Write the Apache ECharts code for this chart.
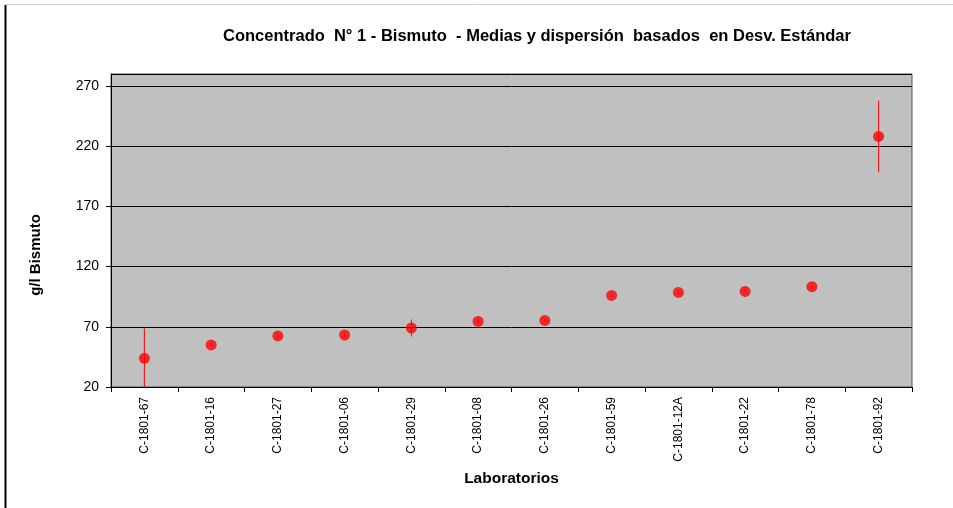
<!DOCTYPE html>
<html>
<head>
<meta charset="utf-8">
<script src="https://cdn.jsdelivr.net/npm/echarts@6/dist/echarts.min.js"></script>
<style>
html,body{margin:0;padding:0;background:#fff;}
#chart{width:953px;height:508px;}
</style>
</head>
<body>
<div id="chart"></div>
<script>
var labs = ['C-1801-67','C-1801-16','C-1801-27','C-1801-06','C-1801-29','C-1801-08','C-1801-26','C-1801-59','C-1801-12A','C-1801-22','C-1801-78','C-1801-92'];
var means = [43.8, 54.9, 62.4, 63.2, 69.0, 74.5, 75.3, 96.1, 98.6, 99.4, 103.3, 228.1];
var sds = [25.0, 1.5, 1.5, 1.5, 7.0, 1.5, 1.5, 1.5, 1.5, 1.5, 1.5, 29.7];
var yTicks = [20, 70, 120, 170, 220, 270];

var chart = echarts.init(document.getElementById('chart'));
var font = 'Liberation Sans, Arial, sans-serif';
chart.setOption({
  animation: false,
  backgroundColor: '#fff',
  title: {
    text: 'Concentrado  N° 1 - Bismuto  - Medias y dispersión  basados  en Desv. Estándar',
    left: 532, top: 23, textAlign: 'center',
    textStyle: {fontFamily: font, fontSize: 16.5, fontWeight: 'bold', color: '#000'}
  },
  graphic: [
    {type: 'line', shape: {x1: 5.5, y1: 5, x2: 5.5, y2: 508}, style: {stroke: '#000', lineWidth: 2}},
    {type: 'line', shape: {x1: 6, y1: 4.5, x2: 953, y2: 4.5}, style: {stroke: '#ccc', lineWidth: 1}},
    {type: 'text', x: 36, y: 255, rotation: Math.PI / 2,
      style: {text: 'g/l Bismuto', fontFamily: font, fontSize: 15, fontWeight: 'bold', fill: '#000', align: 'center', verticalAlign: 'middle'}}
  ],
  grid: {left: 111, right: 41, top: 74, bottom: 121, show: true, backgroundColor: '#c0c0c0', borderColor: '#555', borderWidth: 1},
  xAxis: {
    type: 'category', data: labs, boundaryGap: true,
    name: 'Laboratorios', nameLocation: 'middle', nameGap: 84,
    nameTextStyle: {fontFamily: font, fontSize: 15.5, fontWeight: 'bold', color: '#000'},
    axisLine: {lineStyle: {color: '#000', width: 1}},
    axisTick: {show: true, length: 5, lineStyle: {color: '#000'}},
    axisLabel: {rotate: 90, fontFamily: font, fontSize: 12, color: '#000', margin: 10}
  },
  yAxis: {
    type: 'value', min: 20, max: 280, interval: 50,
    axisLine: {show: true, lineStyle: {color: '#000'}},
    axisTick: {show: true, length: 5, lineStyle: {color: '#000'}},
    axisLabel: {fontFamily: font, fontSize: 14, color: '#000', margin: 12, showMaxLabel: false,
      formatter: function (v) { return yTicks.indexOf(v) >= 0 ? String(v) : ''; }},
    splitLine: {show: true, lineStyle: {color: '#000', width: 1}}
  },
  series: [
    {
      type: 'custom', clip: true, z: 2,
      data: means.map(function (m, i) { return [i, m - sds[i], m + sds[i]]; }),
      renderItem: function (params, api) {
        var lo = api.coord([api.value(0), api.value(1)]);
        var hi = api.coord([api.value(0), api.value(2)]);
        return {type: 'line', shape: {x1: lo[0], y1: lo[1], x2: hi[0], y2: hi[1]}, style: {stroke: '#ff0000', lineWidth: 1}};
      }
    },
    {
      type: 'scatter', data: means, symbol: 'circle', symbolSize: 11, z: 3,
      itemStyle: {color: '#ff0000'}
    }
  ]
});
</script>
</body>
</html>
